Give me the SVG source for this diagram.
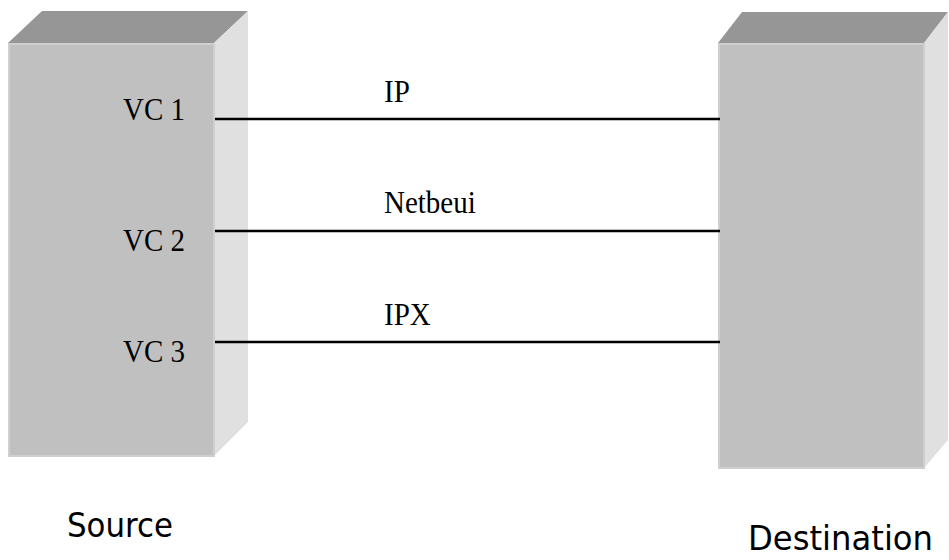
<svg xmlns="http://www.w3.org/2000/svg" width="949" height="560" viewBox="0 0 949 560">
  <style>
    .front { fill: #c0c0c0; stroke: #cfcfcf; stroke-width: 2; }
    .top { fill: #969696; }
    .side { fill: #e0e0e0; }
    .vc { font-family: "Liberation Serif", "Times New Roman", serif; font-size: 29px; fill: #000; }
    .end { font-family: "DejaVu Sans", Tahoma, sans-serif; font-size: 34px; fill: #000; }
    .link { stroke: #000; stroke-width: 2.5; fill: none; }
  </style>

  <!-- Source block -->
  <g id="source">
    <polygon class="top" points="8,43 42,11 248,11 214,43"/>
    <polygon class="side" points="214,43 248,11 248,422 214,456"/>
    <rect class="front" x="9" y="44" width="205" height="412"/>
    <text class="vc" x="123" y="120" transform="translate(123 120) scale(1 1.1) translate(-123 -120)">VC 1</text>
    <text class="vc" x="123" y="251" transform="translate(123 251) scale(1 1.1) translate(-123 -251)">VC 2</text>
    <text class="vc" x="123" y="362" transform="translate(123 362) scale(1 1.1) translate(-123 -362)">VC 3</text>
    <text class="end" x="67" y="537" textLength="106" lengthAdjust="spacingAndGlyphs">Source</text>
  </g>

  <!-- Destination block -->
  <g id="destination">
    <polygon class="top" points="718,43 742,12 948,12 924,43"/>
    <polygon class="side" points="924,43 948,12 948,440 924,468"/>
    <rect class="front" x="719" y="44" width="205" height="424"/>
    <text class="end" x="748" y="550" textLength="185" lengthAdjust="spacingAndGlyphs">Destination</text>
  </g>

  <!-- Virtual circuits -->
  <g id="connectors">
    <line class="link" x1="215" y1="119" x2="720" y2="119"/>
    <line class="link" x1="215" y1="231" x2="720" y2="231"/>
    <line class="link" x1="215" y1="342" x2="720" y2="342"/>
    <text class="vc" x="384" y="102" transform="translate(384 102) scale(1 1.1) translate(-384 -102)">IP</text>
    <text class="vc" x="384" y="213" transform="translate(384 213) scale(1 1.1) translate(-384 -213)">Netbeui</text>
    <text class="vc" x="384" y="325" transform="translate(384 325) scale(1 1.1) translate(-384 -325)">IPX</text>
  </g>
</svg>
